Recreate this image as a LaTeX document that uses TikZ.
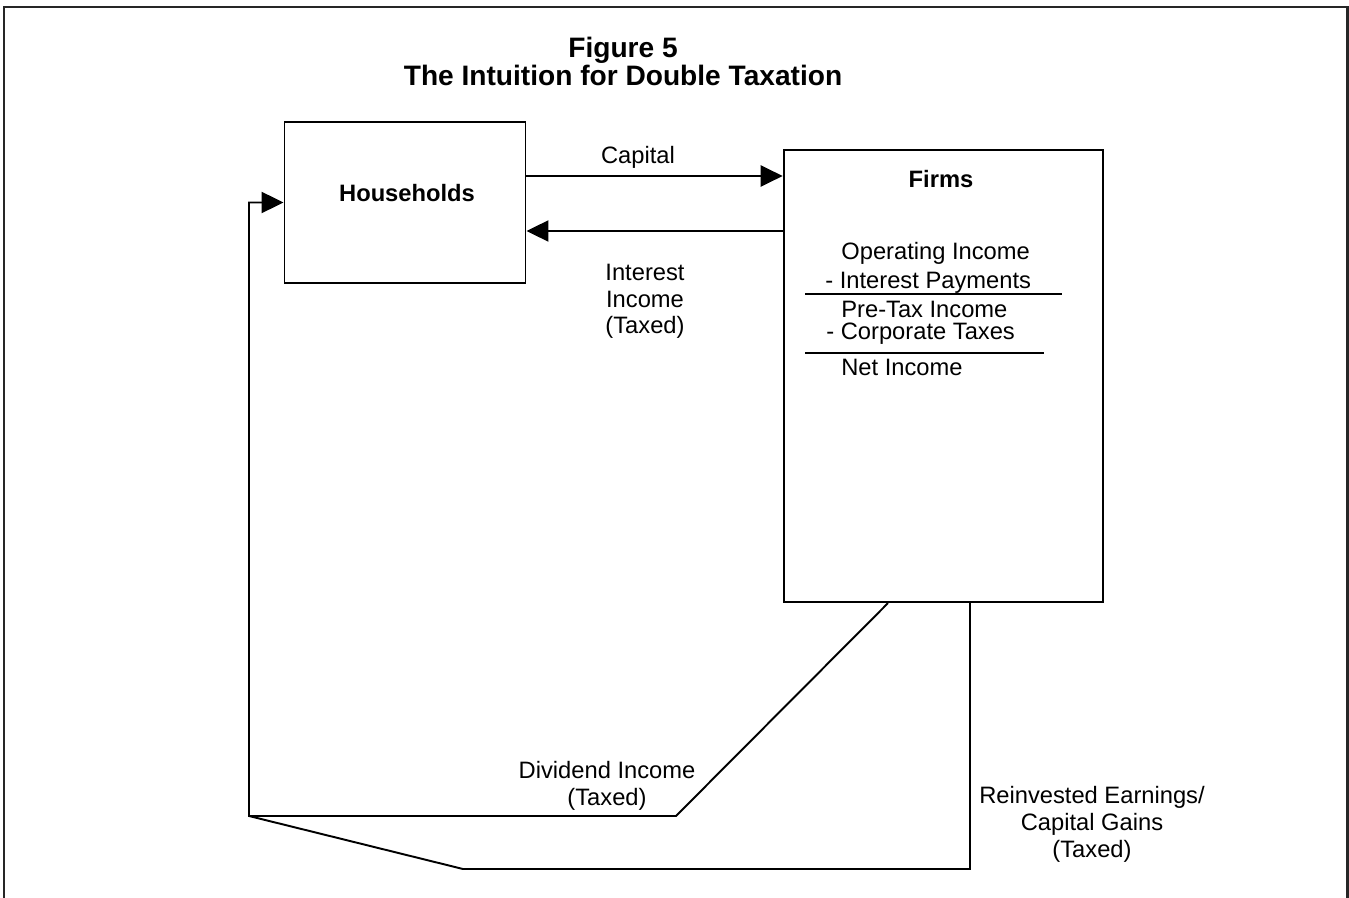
\documentclass[tikz,border=0pt]{standalone}
\usepackage{fontspec}
\setmainfont{Liberation Sans}
\usetikzlibrary{positioning, arrows.meta}

\begin{document}
\begin{tikzpicture}[x=0.02cm, y=-0.02cm,
        box/.style={draw, line width=1.1pt, inner sep=0pt},
        carrow/.style={-{Triangle[length=12.5pt,width=12pt]}, line width=1.1pt},
        flow/.style={line width=1.1pt},
        lbl/.style={font=\fontsize{13.5}{15.3}\selectfont, align=center, inner sep=0pt, anchor=base},
        stmt/.style={font=\fontsize{13.5}{15.3}\selectfont, inner sep=0pt, anchor=base west}]
    \useasboundingbox (0,0) rectangle (1349,898);
    \draw[line width=1.7pt, black!85] (4,898) -- (4,7) -- (1347,7) -- (1347,898);
    \node[lbl, font=\fontsize{16}{16}\bfseries\selectfont] (title) at (623,86) {Figure 5\\The Intuition for Double Taxation};
    % boxes
    \node[box, minimum width=137.2pt, minimum height=91.3pt] (hh) at (405,202.5) {};
    \node[lbl, font=\fontsize{13.5}{15.3}\bfseries\selectfont] (hhtxt) at (407,202) {Households};
    \node[box, minimum width=182pt, minimum height=257.4pt] (fm) at (943.5,376) {};
    \node[lbl, font=\fontsize{13.5}{15.3}\bfseries\selectfont] (fmtxt) at (941,188) {Firms};
    % income statement
    \node[stmt] (opinc) at (841,260) {Operating Income};
    \node[stmt] (intpay) at (825,289) {- Interest Payments};
    \node[stmt] (ptinc) at (841,318) {Pre-Tax Income};
    \node[stmt] (corptax) at (826,340) {- Corporate Taxes};
    \node[stmt] (netinc) at (841,376) {Net Income};
    \draw[line width=1.7pt] (805,294) -- (1062,294);
    \draw[line width=1.7pt] (805,353) -- (1044,353);
    % flows between the boxes
    \coordinate (capy) at (0,176);
    \coordinate (inty) at (0,231);
    \draw[carrow] (hh.east |- capy) -- (fm.west |- capy);
    \draw[carrow] (fm.west |- inty) -- (hh.east |- inty);
    \node[lbl] (caplbl) at (638,164) {Capital};
    \node[lbl] (intlbl) at (645,334) {Interest\\Income\\(Taxed)};
    % payouts back to households
    \coordinate (dvx) at (888,0);
    \coordinate (dvbend) at (676,816);
    \coordinate (loopc) at (249,816);
    \coordinate (rebot) at (970,869);
    \coordinate (rebend) at (463,869);
    \draw[carrow] (fm.south -| dvx) -- (dvbend) -- (loopc) -- (loopc |- hh.west) -- (hh.west);
    \draw[flow] (fm.south -| rebot) -- (rebot) -- (rebend) -- (loopc);
    \node[lbl] (divlbl) at (607,805) {Dividend Income\\(Taxed)};
    \node[lbl] (relbl) at (1092,857) {Reinvested Earnings/\\Capital Gains\\(Taxed)};
\end{tikzpicture}
\end{document}
